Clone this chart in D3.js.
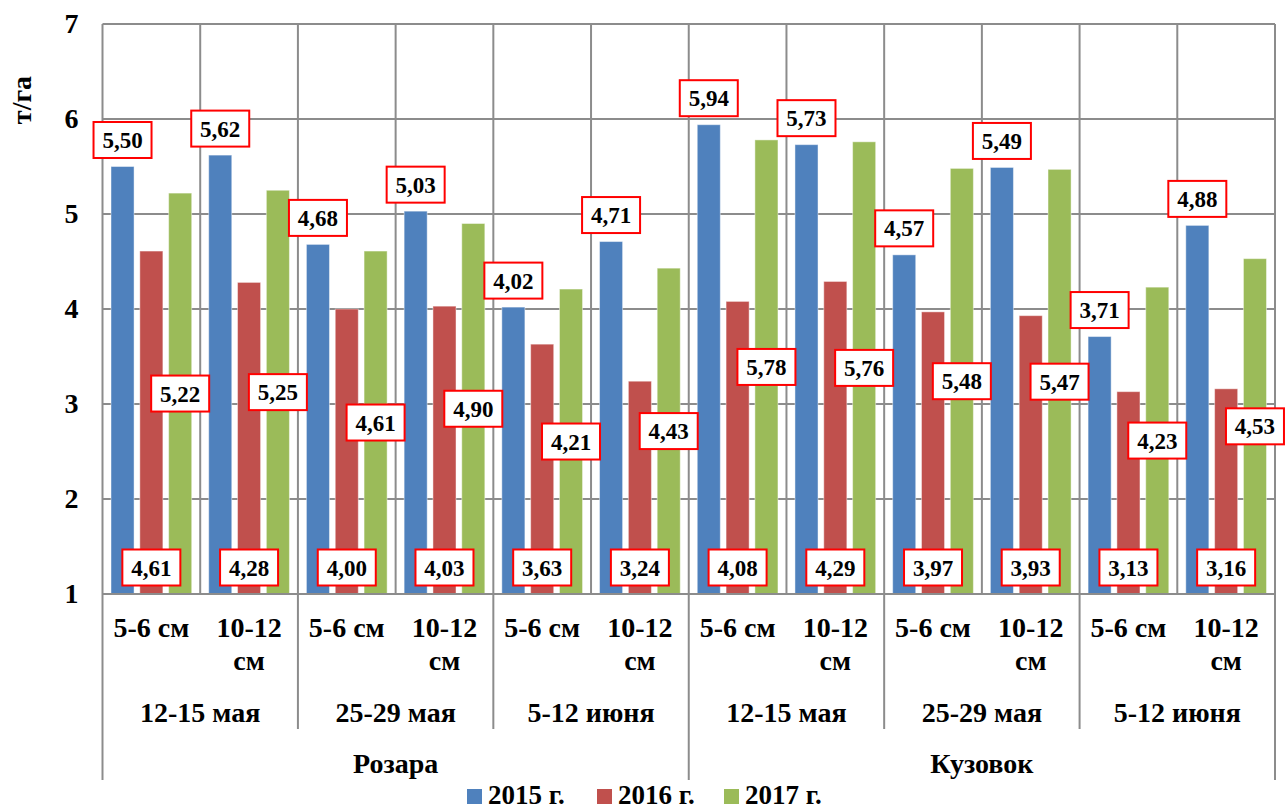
<!DOCTYPE html>
<html lang="ru">
<head>
<meta charset="utf-8">
<title>Урожайность, т/га</title>
<script src="https://cdn.jsdelivr.net/npm/d3@7/dist/d3.min.js"></script>
<style>
  html, body { margin: 0; padding: 0; background: #fff; }
  svg { display: block; }
  svg text { font-family: "Liberation Serif", "Times New Roman", "DejaVu Serif", serif; font-weight: bold; fill: #000; }
</style>
</head>
<body>
<svg id="chart" width="1285" height="812"></svg>
<script>
// Category levels
const varieties = ["Розара", "Кузовок"];
const plantingDates = ["12-15 мая", "25-29 мая", "5-12 июня"];
const depths = ["5-6 см", "10-12 см"];

// Yield by year, t/ha, in category order
const yield2015 = [5.50, 5.62, 4.68, 5.03, 4.02, 4.71, 5.94, 5.73, 4.57, 5.49, 3.71, 4.88];
const yield2016 = [4.61, 4.28, 4.00, 4.03, 3.63, 3.24, 4.08, 4.29, 3.97, 3.93, 3.13, 3.16];
const yield2017 = [5.22, 5.25, 4.61, 4.90, 4.21, 4.43, 5.78, 5.76, 5.48, 5.47, 4.23, 4.53];

const seriesNames = ["2015 г.", "2016 г.", "2017 г."];
const seriesColors = ["#4F81BD", "#C0504D", "#9BBB59"];
const yTicks = [1, 2, 3, 4, 5, 6, 7];
const yTitle = "т/га";

const FONT = "'Liberation Serif', 'Times New Roman', 'DejaVu Serif', serif";

// Build the flat category list (variety > date > depth)
const categories = [];
varieties.forEach((v, vi) => plantingDates.forEach((d, di) => depths.forEach((s, si) => {
  categories.push({ id: `${vi}-${di}-${si}`, variety: v, date: d, depth: s });
})));
const seriesData = [yield2015, yield2016, yield2017];

const svg = d3.select("#chart");
const plot = { left: 102.5, right: 1275, top: 24, bottom: 594 };
const gridColor = "#8c8c8c";

const x = d3.scaleBand().domain(categories.map(c => c.id)).range([plot.left, plot.right]).padding(0);
const y = d3.scaleLinear().domain([1, 7]).range([plot.bottom, plot.top]);
const bw = x.bandwidth();
const inset = bw * 0.087;
const xs = d3.scaleBand().domain(d3.range(3)).range([inset, bw - inset]).paddingInner(0.2);

function txt(sel, size) {
  return sel.style("font-family", FONT).style("font-weight", "bold").style("font-size", size + "px").attr("fill", "#000");
}

// Grid
const grid = svg.append("g").attr("stroke", gridColor).attr("stroke-width", 2);
grid.selectAll("line.h").data(yTicks).join("line")
  .attr("class", "h")
  .attr("x1", plot.left).attr("x2", plot.right)
  .attr("y1", d => y(d)).attr("y2", d => y(d));
const bounds = categories.map(c => x(c.id)).concat([plot.right]);
grid.selectAll("line.v").data(bounds).join("line")
  .attr("class", "v")
  .attr("x1", d => d).attr("x2", d => d)
  .attr("y1", plot.top).attr("y2", plot.bottom);

// Bars
const barsG = svg.append("g");
seriesData.forEach((vals, si) => {
  barsG.append("g").selectAll("rect").data(vals).join("rect")
    .attr("x", (d, i) => x(categories[i].id) + xs(si))
    .attr("width", xs.bandwidth())
    .attr("y", d => y(d))
    .attr("height", d => y(1) - y(d))
    .attr("fill", seriesColors[si])
    .attr("stroke", "rgba(255,255,255,0.45)")
    .attr("stroke-width", 1);
});

// Data labels: 2015 above bar, 2016 at bar base, 2017 at bar centre
const labelFont = 23, boxW = 58, boxH = 36;
const labelsG = svg.append("g");
const fmt = v => v.toFixed(2).replace(".", ",");
seriesData.forEach((vals, si) => {
  vals.forEach((v, i) => {
    const cx = x(categories[i].id) + xs(si) + xs.bandwidth() / 2;
    let cy;
    if (si === 0) cy = y(v) - 8.5 - boxH / 2;
    else if (si === 1) cy = y(1) - 8.5 - boxH / 2;
    else cy = (y(v) + y(1)) / 2;
    const g = labelsG.append("g").attr("transform", `translate(${cx},${cy})`);
    g.append("rect")
      .attr("x", -boxW / 2).attr("y", -boxH / 2)
      .attr("width", boxW).attr("height", boxH)
      .attr("fill", "#fff").attr("stroke", "#ff0000").attr("stroke-width", 2);
    txt(g.append("text"), labelFont)
      .attr("text-anchor", "middle")
      .attr("dy", "0.35em")
      .text(fmt(v));
  });
});

// Y axis labels
const yAxis = d3.axisLeft(y).tickValues(yTicks).tickSize(0).tickPadding(24).tickFormat(d3.format("d"));
const yG = svg.append("g").attr("transform", `translate(${plot.left},0)`).call(yAxis);
yG.select(".domain").remove();
yG.attr("font-family", null).attr("font-size", null);
txt(yG.selectAll("text"), 28);

txt(svg.append("text"), 28)
  .attr("transform", `translate(31,100) rotate(-90)`)
  .attr("text-anchor", "middle")
  .text(yTitle);

// Multi-level category axis
const axisG = svg.append("g");
axisG.append("line")
  .attr("x1", plot.left).attr("x2", plot.right)
  .attr("y1", plot.bottom).attr("y2", plot.bottom)
  .attr("stroke", gridColor).attr("stroke-width", 2);

// Depth labels (wrap when wider than the band)
const depthG = axisG.append("g");
categories.forEach(c => {
  const cx = x(c.id) + bw / 2;
  const t = txt(depthG.append("text"), 28)
    .attr("x", cx).attr("y", 637)
    .attr("text-anchor", "middle")
    .text(c.depth);
  if (t.node().getComputedTextLength() > bw - 8) {
    const words = c.depth.split(" ");
    t.text(null);
    words.forEach((w, wi) => {
      t.append("tspan").attr("x", cx).attr("y", 637 + wi * 33).text(w);
    });
  }
});

// Planting date labels
const perVariety = plantingDates.length * depths.length;
const dateGroups = [];
varieties.forEach((v, vi) => plantingDates.forEach((d, di) => {
  const first = categories[vi * perVariety + di * depths.length];
  const last = categories[vi * perVariety + di * depths.length + depths.length - 1];
  dateGroups.push({ label: d, x0: x(first.id), x1: x(last.id) + bw });
}));
txt(axisG.selectAll("text.date").data(dateGroups).join("text"), 28)
  .attr("class", "date")
  .attr("x", d => (d.x0 + d.x1) / 2).attr("y", 722)
  .attr("text-anchor", "middle")
  .text(d => d.label);

// Variety labels
const varietyGroups = varieties.map((v, vi) => ({
  label: v,
  x0: x(categories[vi * perVariety].id),
  x1: x(categories[vi * perVariety + perVariety - 1].id) + bw
}));
txt(axisG.selectAll("text.variety").data(varietyGroups).join("text"), 28)
  .attr("class", "variety")
  .attr("x", d => (d.x0 + d.x1) / 2).attr("y", 773)
  .attr("text-anchor", "middle")
  .text(d => d.label);

// Separators between date groups (short) and between varieties (long)
const varietyEdges = new Set(varietyGroups.flatMap(g => [g.x0, g.x1]));
const dateEdges = Array.from(new Set(dateGroups.flatMap(g => [g.x0, g.x1]))).filter(e => !varietyEdges.has(e));
axisG.selectAll("line.dsep").data(dateEdges).join("line")
  .attr("class", "dsep")
  .attr("x1", d => d).attr("x2", d => d)
  .attr("y1", plot.bottom).attr("y2", 729)
  .attr("stroke", gridColor).attr("stroke-width", 2);
axisG.selectAll("line.vsep").data(Array.from(varietyEdges)).join("line")
  .attr("class", "vsep")
  .attr("x1", d => d).attr("x2", d => d)
  .attr("y1", plot.bottom).attr("y2", 780)
  .attr("stroke", gridColor).attr("stroke-width", 2);

// Legend
const legendX = [467, 597, 724];
const legendG = svg.append("g");
seriesNames.forEach((name, i) => {
  legendG.append("rect")
    .attr("x", legendX[i]).attr("y", 789)
    .attr("width", 15).attr("height", 15)
    .attr("fill", seriesColors[i]);
  txt(legendG.append("text"), 27)
    .attr("x", legendX[i] + 21).attr("y", 804)
    .text(name);
});
</script>
</body>
</html>
